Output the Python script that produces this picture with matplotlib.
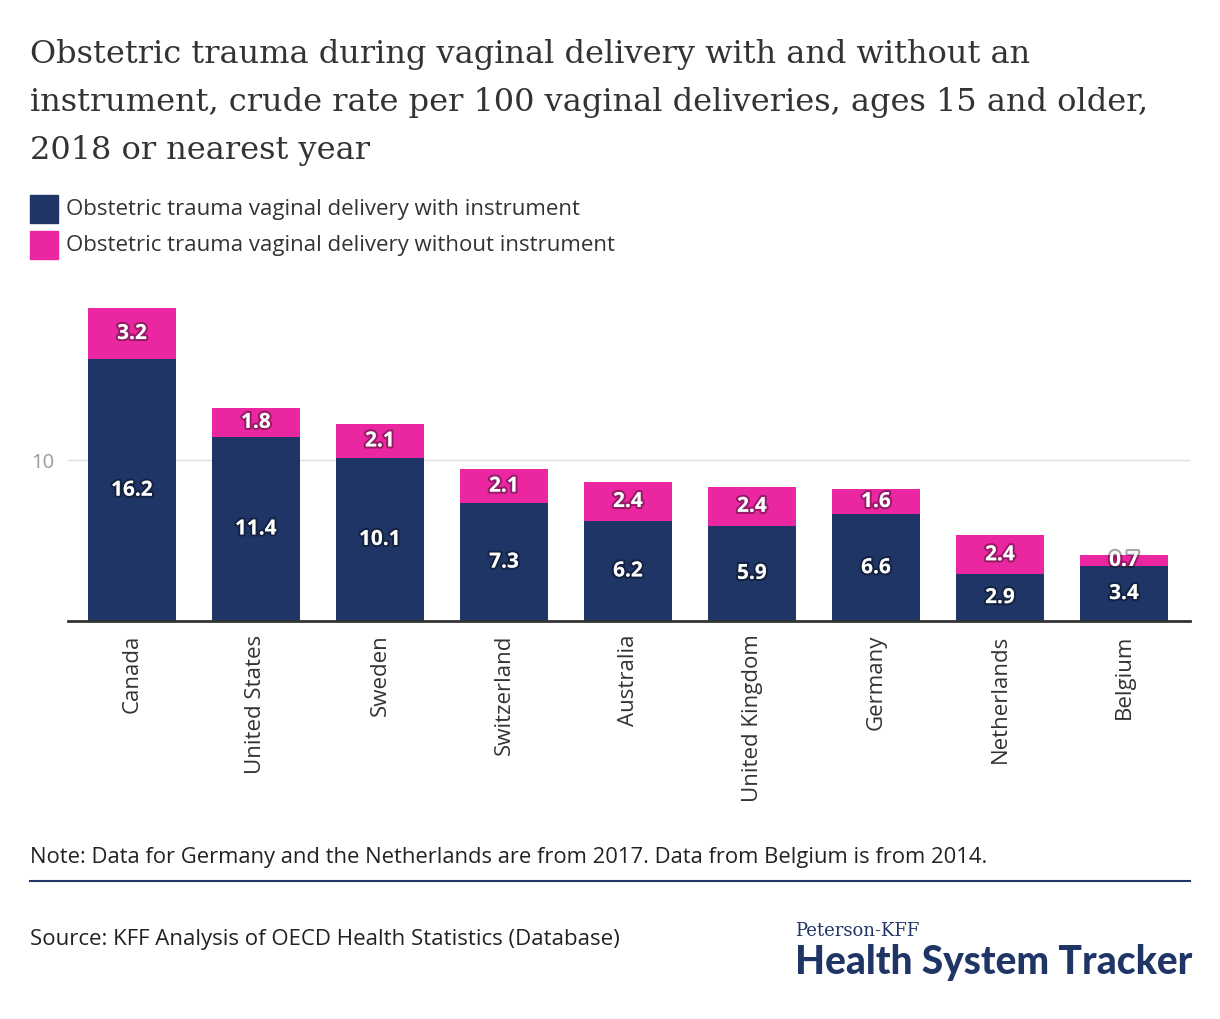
import matplotlib
matplotlib.use("Agg")
import matplotlib.pyplot as plt
import matplotlib.patheffects as pe
from matplotlib.lines import Line2D

countries = ["Canada", "United States", "Sweden", "Switzerland", "Australia",
             "United Kingdom", "Germany", "Netherlands", "Belgium"]
with_instrument = [16.2, 11.4, 10.1, 7.3, 6.2, 5.9, 6.6, 2.9, 3.4]
without_instrument = [3.2, 1.8, 2.1, 2.1, 2.4, 2.4, 1.6, 2.4, 0.7]
yticks = [10]

NAVY = "#1f3565"
PINK = "#ea27a0"
W, H = 1220, 1020
SANS = "Open Sans"

fig = plt.figure(figsize=(W / 100, H / 100), dpi=100)

def fx(px):
    return px / W

def fy(py):
    return 1 - py / H

# axes: left 68, right 1190, bottom 622, top ~ 300
ax = fig.add_axes([fx(68), fy(622), fx(1190 - 68), (622 - 300) / H])
x = list(range(len(countries)))
ax.bar(x, with_instrument, width=0.71, color=NAVY, zorder=2)
ax.bar(x, without_instrument, width=0.71, bottom=with_instrument, color=PINK, zorder=2)
ax.set_xlim(-0.516, len(countries) - 1 + 0.532)
ax.set_ylim(0, (622 - 300) / 16.15)
ax.set_yticks(yticks)
ax.set_yticklabels([str(v) for v in yticks], fontsize=14.5, color="#9a9a9a", family=SANS)
ax.tick_params(axis="y", length=0, pad=10)
ax.grid(axis="y", color="#dddddd", linewidth=1, zorder=0)
ax.set_xticks(x)
ax.set_xticklabels(countries, rotation=90, fontsize=16, color="#333333", family=SANS,
                   va="top", ha="center")
ax.tick_params(axis="x", length=0, pad=9)
for s in ["top", "right", "left"]:
    ax.spines[s].set_visible(False)
ax.spines["bottom"].set_color("#333333")
ax.spines["bottom"].set_linewidth(2)
ax.spines["bottom"].set_zorder(3)

shadow = [pe.withStroke(linewidth=3, foreground=(0, 0, 0, 0.35))]
for i, (a, b) in enumerate(zip(with_instrument, without_instrument)):
    ax.text(i, a / 2, f"{a:.1f}", ha="center", va="center", color="white",
            fontsize=15, fontweight="bold", family=SANS, path_effects=shadow, zorder=4)
    ax.text(i, a + b / 2, f"{b:.1f}", ha="center", va="center", color="white",
            fontsize=15, fontweight="bold", family=SANS, path_effects=shadow, zorder=4)

# Title
title_lines = ["Obstetric trauma during vaginal delivery with and without an",
               "instrument, crude rate per 100 vaginal deliveries, ages 15 and older,",
               "2018 or nearest year"]
for k, line in enumerate(title_lines):
    fig.text(fx(30), fy(55 + 48 * k), line, fontsize=23, family="DejaVu Serif",
             color="#333333", va="center", ha="left")

# Legend
for py, col, lab in [(210, NAVY, "Obstetric trauma vaginal delivery with instrument"),
                     (246, PINK, "Obstetric trauma vaginal delivery without instrument")]:
    fig.patches.append(plt.Rectangle((fx(30), fy(py + 14)), fx(28), 28 / H,
                                     transform=fig.transFigure, color=col, figure=fig))
    fig.text(fx(66), fy(py), lab, fontsize=16, family=SANS, color="#333333",
             va="center", ha="left")

# Note
fig.text(fx(30), fy(858), "Note: Data for Germany and the Netherlands are from 2017. Data from Belgium is from 2014.",
         fontsize=15.8, family=SANS, color="#222222", va="center", ha="left")
fig.add_artist(Line2D([fx(30), fx(1190)], [fy(882), fy(882)], transform=fig.transFigure,
                      color=NAVY, linewidth=1.5))
fig.text(fx(30), fy(940), "Source: KFF Analysis of OECD Health Statistics (Database)",
         fontsize=16, family=SANS, color="#222222", va="center", ha="left")

# Logo
fig.text(fx(795), fy(931), "Peterson-KFF", fontsize=13, family="DejaVu Serif",
         color=NAVY, va="center", ha="left")
fig.text(fx(795), fy(963), "Health System Tracker", fontsize=28, family="Lato",
         fontweight="black", color=NAVY, va="center", ha="left")

fig.savefig("out.png", dpi=100, facecolor="white")
